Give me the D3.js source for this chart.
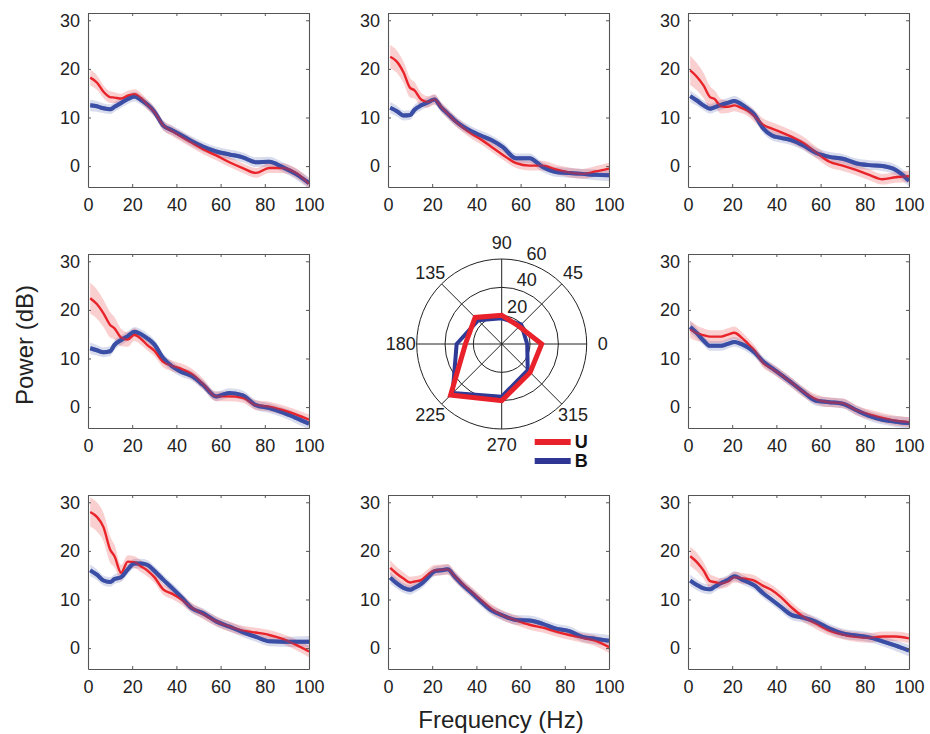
<!DOCTYPE html>
<html>
<head>
<meta charset="utf-8">
<script src="https://cdn.jsdelivr.net/npm/d3@7"></script>
<style>
  html, body { margin: 0; padding: 0; background: #fff; }
  svg { display: block; font-family: "Liberation Sans", Arial, Helvetica, sans-serif; }
</style>
</head>
<body>
<svg id="chart" width="930" height="734"></svg>
<script>
// ---------------- DATA ----------------
const freq = [1,4,7,10,12,15,18,21,24,27,30,34,38,42,47,52,58,64,70,76,82,88,94,100];
const xTicks = [0,20,40,60,80,100];
const yTicks = [0,10,20,30];

// panel 1 (top-left)
const p1U = [18.2,17.2,15.3,14.2,14.1,13.9,14.5,14.8,14.0,12.6,11.2,8.4,7.2,6.1,4.8,3.5,2.2,0.8,-0.4,-1.4,-0.4,-0.4,-1.4,-3.6];
const p1B = [12.5,12.3,11.9,11.7,12.2,13.0,13.8,14.3,13.6,12.6,11.2,8.4,7.4,6.4,5.1,4.0,3.0,2.4,1.8,0.8,0.9,-0.2,-1.6,-3.5];
const p1Ue = [1.6,1.5,1.3,1.2,1.1,1.0,1.0,1.0,1.0,1.0,1.0,1.0,1.0,1.0,1.0,1.0,1.0,1.0,1.0,1.0,1.0,1.0,1.0,1.0];
// panel 2 (top-middle)
const p2U = [22.5,21.5,19.3,16.1,15.6,13.7,13.2,13.7,12.2,10.8,9.4,7.9,6.6,5.5,3.9,2.3,0.6,0.1,0.1,-0.7,-1.3,-1.6,-1.1,-0.5];
const p2B = [12.0,11.3,10.4,10.5,11.6,12.5,13.1,13.7,12.1,10.8,9.5,8.1,7.1,6.3,5.3,3.9,1.6,1.6,-0.2,-1.2,-1.4,-1.6,-1.8,-1.9];
const p2Ue = [2.4,2.3,2.2,2.0,1.7,1.4,1.2,1.1,1.0,1.0,1.0,1.0,1.0,1.0,1.0,1.0,1.0,1.0,1.0,1.0,1.0,1.0,1.1,1.2];
// panel 3 (top-right)
const p3U = [19.7,18.4,16.6,14.2,13.8,12.3,12.2,12.5,12.0,11.4,10.3,8.5,7.7,7.0,6.0,4.8,2.8,0.9,0.1,-0.8,-1.8,-2.7,-2.3,-2.1];
const p3B = [14.4,13.5,12.5,11.8,12.1,12.6,13.0,13.4,12.8,11.8,10.6,7.8,6.3,5.8,5.3,4.3,2.7,1.9,1.5,0.6,0.2,0.0,-0.8,-3.0];
const p3Ue = [3.0,2.8,2.6,2.2,1.8,1.5,1.3,1.2,1.1,1.1,1.2,1.3,1.3,1.3,1.3,1.3,1.2,1.2,1.1,1.1,1.1,1.1,1.1,1.2];
// panel 4 (middle-left)
const p4U = [22.4,21.2,19.3,16.9,16.2,14.3,13.9,14.9,14.0,12.7,11.6,9.3,8.5,7.9,6.8,4.8,2.2,2.2,1.9,0.4,0.1,-0.6,-1.5,-2.6];
const p4B = [12.1,11.7,11.3,11.5,12.8,13.8,14.6,15.5,15.0,14.1,12.9,10.1,8.4,7.3,6.4,4.6,2.2,2.9,2.4,0.4,-0.2,-1.1,-2.2,-3.4];
const p4Ue = [3.2,3.0,2.8,2.6,2.3,1.8,1.5,1.3,1.2,1.1,1.1,1.1,1.1,1.1,1.1,1.1,1.0,1.0,1.0,1.0,1.0,1.0,1.0,1.1];
// panel 6 (middle-right)
const p6U = [16.0,15.2,14.8,14.5,14.5,14.5,14.9,15.3,14.4,13.1,11.7,9.1,7.9,6.7,5.0,3.2,1.6,1.0,0.8,-0.6,-1.5,-2.2,-2.8,-3.1];
const p6B = [16.5,15.2,13.7,12.6,12.6,12.6,13.0,13.4,13.0,12.3,11.3,9.4,8.0,6.7,5.0,3.2,1.3,1.0,0.7,-0.6,-1.8,-2.6,-3.0,-3.3];
const p6Ue = [1.8,1.6,1.4,1.3,1.3,1.3,1.3,1.3,1.2,1.1,1.0,1.0,1.0,1.0,1.0,1.0,1.0,1.0,1.0,1.0,1.0,1.0,1.0,1.0];
// panel 7 (bottom-left)
const p7U = [28.0,27.0,24.9,20.3,18.9,15.5,17.8,17.7,16.8,15.9,14.6,12.1,11.2,10.1,8.3,7.0,5.5,4.4,3.6,3.2,2.7,1.9,0.7,-0.7];
const p7B = [16.0,15.1,13.9,13.6,14.2,14.6,16.2,17.4,17.4,17.1,15.9,14.1,12.4,10.6,8.2,7.2,5.5,4.4,3.3,2.3,1.4,1.3,1.3,1.3];
const p7Ue = [3.0,3.0,2.9,2.7,2.3,1.6,1.3,1.2,1.2,1.2,1.1,1.1,1.1,1.1,1.0,1.0,1.0,1.0,1.0,1.0,1.0,1.0,1.1,1.2];
// panel 8 (bottom-middle)
const p8U = [16.5,15.3,14.3,13.5,13.7,14.0,15.1,16.0,16.1,16.2,14.9,13.1,11.5,9.9,8.0,6.7,5.7,4.8,4.2,3.4,2.7,2.1,1.5,0.2];
const p8B = [14.5,13.3,12.4,12.0,12.4,13.2,14.5,15.8,16.0,16.2,14.8,12.9,11.3,9.6,7.7,6.7,5.8,5.7,5.0,4.0,3.5,2.3,1.9,1.5];
const p8Ue = [1.6,1.4,1.3,1.2,1.1,1.1,1.1,1.1,1.1,1.1,1.1,1.0,1.0,1.0,1.0,1.0,1.0,1.0,1.0,1.0,1.0,1.0,1.1,1.2];
// panel 9 (bottom-right)
const p9U = [18.9,17.7,16.0,13.8,13.6,13.3,13.7,14.6,14.4,14.2,13.9,12.8,11.9,10.5,8.3,6.5,5.0,3.6,2.8,2.3,2.1,2.4,2.4,2.0];
const p9B = [13.9,13.0,12.3,12.1,12.6,13.4,14.0,14.8,14.2,13.6,12.9,11.3,9.9,8.5,6.8,6.3,5.4,4.0,3.0,2.6,2.2,1.4,0.5,-0.5];
const p9Ue = [2.0,1.9,1.7,1.4,1.2,1.1,1.1,1.1,1.1,1.1,1.1,1.1,1.1,1.1,1.1,1.1,1.1,1.0,1.0,1.0,1.0,1.0,1.0,1.0];
// blue band half-width (shared)
const bandB = [1.2,1.1,1.0,1.0,1.0,1.0,1.0,1.0,1.0,1.0,1.0,1.0,1.0,1.0,1.0,1.0,1.0,1.0,1.0,1.0,1.0,1.0,1.1,1.2];

// polar panel
const polarAngles = [0,45,90,135,180,225,270,315];
const polarU = [28.2,17.5,20.3,26.5,25.6,51,40,28.4];
const polarB = [18,19.5,18.1,23.6,31.8,49,37.2,26];
const polarRings = [20,40,60];
const polarSeries = ["U","B"];

// ---------------- LAYOUT ----------------
const colors = { U: "#e8232a", B: "#3a4ea6", Uband: "rgba(232,35,42,0.22)", Bband: "rgba(58,78,166,0.2)" };
const svg = d3.select("#chart");
const colX = [88, 388, 688];
const rowY = [13, 254, 495];
const PW = 221, PH = 174;

const panels = [
  { u: p1U, b: p1B, ue: p1Ue, c: 0, r: 0 },
  { u: p2U, b: p2B, ue: p2Ue, c: 1, r: 0 },
  { u: p3U, b: p3B, ue: p3Ue, c: 2, r: 0 },
  { u: p4U, b: p4B, ue: p4Ue, c: 0, r: 1 },
  { u: p6U, b: p6B, ue: p6Ue, c: 2, r: 1 },
  { u: p7U, b: p7B, ue: p7Ue, c: 0, r: 2 },
  { u: p8U, b: p8B, ue: p8Ue, c: 1, r: 2 },
  { u: p9U, b: p9B, ue: p9Ue, c: 2, r: 2 }
];

const x = d3.scaleLinear().domain([0, 100]).range([0, PW]);
const y = d3.scaleLinear().domain([-4.3, 31.5]).range([PH, 0]);

const defs = svg.append("defs");
defs.append("clipPath").attr("id", "pclip").append("rect")
  .attr("x", 0).attr("y", 0).attr("width", PW).attr("height", PH);

const line = d3.line().x(d => x(d[0])).y(d => y(d[1])).curve(d3.curveMonotoneX);
const area = d3.area().x(d => x(d[0])).y0(d => y(d[1] - d[2])).y1(d => y(d[1] + d[2])).curve(d3.curveMonotoneX);

panels.forEach((p, i) => {
  const g = svg.append("g").attr("transform", `translate(${colX[p.c]},${rowY[p.r]})`);
  const plot = g.append("g").attr("clip-path", "url(#pclip)");
  const uD = freq.map((f, k) => [f, p.u[k], p.ue[k]]);
  const bD = freq.map((f, k) => [f, p.b[k], bandB[k]]);
  plot.append("path").datum(bD).attr("d", area).attr("fill", colors.Bband);
  plot.append("path").datum(uD).attr("d", area).attr("fill", colors.Uband);
  plot.append("path").datum(bD).attr("d", line).attr("fill", "none")
    .attr("stroke", colors.B).attr("stroke-width", 4).attr("stroke-linejoin", "round");
  plot.append("path").datum(uD).attr("d", line).attr("fill", "none")
    .attr("stroke", colors.U).attr("stroke-width", 2.4).attr("stroke-linejoin", "round");
  plot.append("path").datum(bD).attr("d", line).attr("fill", "none")
    .attr("stroke", colors.B).attr("stroke-width", 4).attr("stroke-opacity", 0.5).attr("stroke-linejoin", "round");

  // axes
  const axL = g.append("g").call(d3.axisLeft(y).tickValues(yTicks).tickSizeInner(-3).tickSizeOuter(0).tickPadding(8));
  const axB = g.append("g").attr("transform", `translate(0,${PH})`)
    .call(d3.axisBottom(x).tickValues(xTicks).tickSizeInner(-3).tickSizeOuter(0).tickPadding(11));
  const axT = g.append("g").call(d3.axisTop(x).tickValues(xTicks).tickSizeInner(-3).tickSizeOuter(0).tickFormat(""));
  const axR = g.append("g").attr("transform", `translate(${PW},0)`)
    .call(d3.axisRight(y).tickValues(yTicks).tickSizeInner(-3).tickSizeOuter(0).tickFormat(""));
  [axL, axB, axT, axR].forEach(a => {
    a.select(".domain").attr("stroke", "#555").attr("stroke-width", 1.1);
    a.selectAll(".tick line").attr("stroke", "#555");
    a.selectAll(".tick text").attr("fill", "#222").style("font-size", "18px")
      .style("font-family", '"Liberation Sans", Arial, sans-serif');
  });
});

// axis titles
svg.append("text").attr("transform", "translate(33,345) rotate(-90)")
  .attr("text-anchor", "middle").style("font-size", "24px").attr("fill", "#222").text("Power (dB)");
svg.append("text").attr("x", 501).attr("y", 728)
  .attr("text-anchor", "middle").style("font-size", "24px").attr("fill", "#222").text("Frequency (Hz)");

// ---------------- POLAR ----------------
const cx = 501.7, cy = 344;
const rS = d3.scaleLinear().domain([0, 60]).range([0, 85]);
const pg = svg.append("g").attr("transform", `translate(${cx},${cy})`);
const rad = a => a * Math.PI / 180;

polarRings.forEach(v => {
  pg.append("circle").attr("r", rS(v)).attr("fill", "none").attr("stroke", "#222").attr("stroke-width", 1);
});
polarAngles.forEach(a => {
  pg.append("line").attr("x1", 0).attr("y1", 0)
    .attr("x2", rS(60) * Math.cos(rad(a))).attr("y2", -rS(60) * Math.sin(rad(a)))
    .attr("stroke", "#222").attr("stroke-width", 1);
});
polarAngles.forEach(a => {
  const r = rS(60) + 16;
  pg.append("text").attr("x", r * Math.cos(rad(a))).attr("y", -r * Math.sin(rad(a)))
    .attr("text-anchor", "middle").attr("dominant-baseline", "central")
    .style("font-size", "18px").attr("fill", "#222").text(a);
});
polarRings.forEach(v => {
  const r = rS(v) + 11, a = 70;
  pg.append("text").attr("x", r * Math.cos(rad(a)) + 2).attr("y", -r * Math.sin(rad(a)))
    .attr("text-anchor", "middle").attr("dominant-baseline", "central")
    .style("font-size", "18px").attr("fill", "#222").text(v);
});

const radial = d3.lineRadial().angle(d => rad(90 - d[0])).radius(d => rS(d[1])).curve(d3.curveLinearClosed);
pg.append("path").datum(polarAngles.map((a, k) => [a, polarB[k]])).attr("d", radial)
  .attr("fill", "none").attr("stroke", "#2e3a96").attr("stroke-width", 4).attr("stroke-linejoin", "round");
pg.append("path").datum(polarAngles.map((a, k) => [a, polarU[k]])).attr("d", radial)
  .attr("fill", "none").attr("stroke", "#e8212a").attr("stroke-width", 5).attr("stroke-linejoin", "miter");

// legend
const legCol = { U: "#e8212a", B: "#2e3592" };
polarSeries.forEach((s, k) => {
  const ly = 98 + k * 19;
  pg.append("line").attr("x1", 33).attr("x2", 69).attr("y1", ly).attr("y2", ly)
    .attr("stroke", legCol[s]).attr("stroke-width", 6);
  pg.append("text").attr("x", 73).attr("y", ly).attr("dominant-baseline", "central")
    .style("font-size", "18px").style("font-weight", "bold").attr("fill", "#111").text(s);
});
</script>
</body>
</html>
